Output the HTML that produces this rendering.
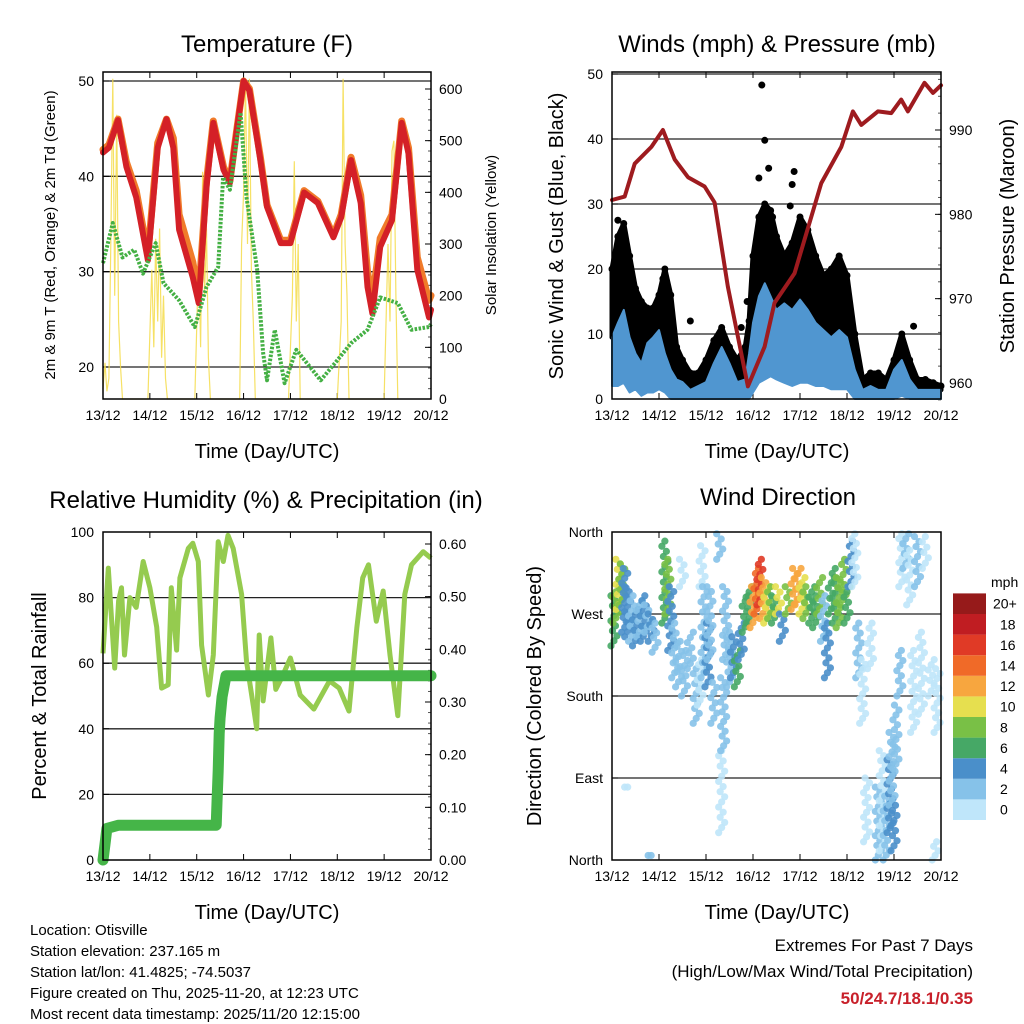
<!DOCTYPE html>
<html><head><meta charset="utf-8">
<style>
html,body{margin:0;padding:0;background:#fff;}
svg{display:block;font-family:"Liberation Sans",Arial,sans-serif;}
</style></head>
<body>
<svg id="root" width="1024" height="1024" viewBox="0 0 1024 1024" xmlns="http://www.w3.org/2000/svg">
<rect width="1024" height="1024" fill="#fff"/>
<g id="p1"></g>
<g id="p2"></g>
<g id="p3"></g>
<g id="p4"></g>

<text x="267" y="52" font-size="24" text-anchor="middle">Temperature (F)</text>
<text x="777" y="52" font-size="24" text-anchor="middle">Winds (mph) &amp; Pressure (mb)</text>
<text x="266" y="508" font-size="24" text-anchor="middle">Relative Humidity (%) &amp; Precipitation (in)</text>
<text x="778" y="505" font-size="24" text-anchor="middle">Wind Direction</text>

<text x="267" y="458" font-size="20" text-anchor="middle">Time (Day/UTC)</text>
<text x="777" y="458" font-size="20" text-anchor="middle">Time (Day/UTC)</text>
<text x="267" y="919" font-size="20" text-anchor="middle">Time (Day/UTC)</text>
<text x="777" y="919" font-size="20" text-anchor="middle">Time (Day/UTC)</text>

<text transform="translate(55,235) rotate(-90)" font-size="15" text-anchor="middle">2m &amp; 9m T (Red, Orange) &amp; 2m Td (Green)</text>
<text transform="translate(496,235) rotate(-90)" font-size="15" text-anchor="middle">Solar Insolation (Yellow)</text>
<text transform="translate(563,236) rotate(-90)" font-size="20" text-anchor="middle">Sonic Wind &amp; Gust (Blue, Black)</text>
<text transform="translate(1014,236) rotate(-90)" font-size="20" text-anchor="middle">Station Pressure (Maroon)</text>
<text transform="translate(46,696) rotate(-90)" font-size="20" text-anchor="middle">Percent &amp; Total Rainfall</text>
<text transform="translate(541,696) rotate(-90)" font-size="20" text-anchor="middle">Direction (Colored By Speed)</text>

<g font-size="15">
<text x="30" y="935">Location: Otisville</text>
<text x="30" y="956">Station elevation: 237.165 m</text>
<text x="30" y="977">Station lat/lon: 41.4825; -74.5037</text>
<text x="30" y="998">Figure created on Thu, 2025-11-20, at 12:23 UTC</text>
<text x="30" y="1019">Most recent data timestamp: 2025/11/20 12:15:00</text>
</g>
<g font-size="17" text-anchor="end">
<text x="973" y="951">Extremes For Past 7 Days</text>
<text x="973" y="977">(High/Low/Max Wind/Total Precipitation)</text>
<text x="973" y="1004" fill="#c8202a" font-weight="bold">50/24.7/18.1/0.35</text>
</g>
<g id="cbar"></g>
</svg>
<script>
// ---------- DATA ----------
const dayLabels = ['13/12','14/12','15/12','16/12','17/12','18/12','19/12','20/12'];
const tempHours = [0,3,7.7,12,17,23,28,32.5,36,39,46,49,53,56.5,61.7,65,68.6,72,75,80.6,84,91,96,103,110,118,122,127,132,135.5,138,142,148,153,156.5,161,167,168];
const tempRed = [42.5,43,45.9,41,37.8,31.2,43,46,43,34.4,29.4,26.7,38.9,45.6,40.7,39.3,44.9,50,49,41.7,36.8,33,33,38.3,37.2,33.6,35.7,41.7,37.2,28.4,25.6,32.6,35.4,45.6,42.4,30.2,25.2,26];
const tempOrange = [42.8,43.3,46,41.5,38.5,31.8,43.5,46,44,36,31,27.5,39.5,45.8,41,39.5,45,50,49.2,42,37,33.3,33.3,38.5,37.4,33.8,36,42,38,30,27,33.5,36,45.8,43,31.5,27,27.5];
const dewHours = [0,5,10,16,20.5,27,31,39,47,53,59,61.5,65,70.5,73.5,79,82,84,88,93,99,106,111.5,120,127,135.5,142,151,158,167,168];
const dewPoint = [30.9,35.1,31.5,32.3,29.8,33,28.8,27,24.2,28.4,30.5,39.9,38.6,46.7,37.8,30.2,21.5,18.6,23.9,18.3,21.8,20,18.6,20.7,22.5,23.9,27.3,26.7,23.9,24.2,24.5];
const solarHours = [0,1,2,3,4,5,6,7,8,9,10, 23,25,26,27,28,29,30,31,32,33, 47,49,50,51,52,53,54,55, 70,71,72,73,74,75,76,77,78, 95,97,98,99,100,101, 120,122,123,124,125,126, 144,146,147,148,149,150,151];
const solarVals = [20,70,15,40,300,620,200,550,150,60,0, 0,250,100,310,150,330,80,200,40,0, 0,280,100,440,200,330,80,0, 0,300,400,620,300,620,250,150,0, 0,200,460,150,300,0, 0,150,620,300,200,0, 0,300,150,480,500,200,0];

const windHours = [0,3,6,9,12,15,18,21,24,27,30,33,36,40,44,48,52,56,60,64,68,70,72,75,78,81,84,88,92,96,100,104,108,112,116,120,124,128,132,136,140,144,148,152,156,160,164,168];
const windHigh = [9.5,11.7,13.7,9.5,7,5.5,8.6,9.5,10.6,7,4.5,3,2.6,1.4,2,2.6,5.5,8,5.5,2.6,3,7,11.7,15.8,17.8,15.8,13.7,14.7,13.7,15.3,13.7,11.7,10.6,9.5,10.6,9.5,4.5,1.4,2,1.4,1.4,4.5,6,3,1.4,1.4,1.4,1.4];
const windLow = [2,2,2.5,1,1.5,0.5,1,1,1.5,1,0,0,0,0,0,0,0,0,0,0,0,0,1,2.5,3,3.5,3,2.5,2,2.5,2.5,2,2,1.5,1.5,1.5,0,0,0,0,0,0,0.5,0,0,0,0,0];
const gustHigh = [20,25,27,22,17,15,14,14,16,20,16,8,6,4,4,6,9,11,8,6,8,12,22,28,30,29,25,22,24,28,26,22,19,20,22,19,10,3,4,4,3,6,10,6,3,3,2.5,2];
const gustOutlierHours = [76.5,78,75,80,91,82,93,92,69,66,154,40,26,5,3];
const gustOutlierVals = [48.3,39.8,34,35.5,29.7,28,35,33,15,11,11.2,12,18.5,24.5,27.5];
const pressHours = [0,6.5,11.6,20.1,26,32,38.8,47.3,52.4,59.2,69.4,77.9,83,93.2,106.9,117.1,123,127.3,135.8,142.6,147.7,151.1,159.6,163.9,168];
const pressVals = [981.7,982.1,986,988,990,986.5,984.4,983.3,981.4,971.4,959.6,964.3,969.5,973,983.7,988,992.2,990.6,992.2,992,993.6,992.2,995.6,994.4,995.3];

const rhHours = [0,2.7,6,8,9.5,11,13.8,17,20.6,24,27.5,30,33.4,35,37.7,39.4,43.7,46,48.8,50.5,54,56.5,59,61.6,64,66.7,71,73.5,77,78.7,80,82,86,88.5,91.5,96,101,108,116,121,126,130,133,136,140,143.5,147,151,154.6,158,164,168];
const rhVals = [63,89,58.5,79,83,62.5,80,77,91,83,71,52.4,53.4,83,64,86,95,96.6,91,65.5,50.3,62.5,97,91,99,95,81,60.6,47,40,68.6,48.5,67.7,52,55.5,61.6,50.3,46,54.6,52.4,45.4,70.7,86,90,72.8,82,62.5,44,81,90,94,92];
const precipHours = [0,1,2,8,58,58.5,59,59.5,60,61,63,168];
const precipVals = [0,0.03,0.06,0.066,0.066,0.12,0.17,0.24,0.27,0.31,0.35,0.35];

// direction clusters: hour, low dir, high dir, speed
const dirHours = [1,2,3.5,5,6.5,8,10,12,14,16,18,20,22,27,28.5,30,32,34,36,37,40,43,45,46,47,49,50,52,55,56,57,58,60,62,64,66,68,70,72,74,75.5,77,79,81,83,85,87,90,93,95,97,99,102,104,106,108,110,112,114,116,118,120,122,124,126,128,130,132,136,138,140,142,143,144,145,147,148,150,152,154,156,158,160,163,165,166,8,20];
const dirLow = [235,260,275,280,250,245,240,235,245,240,250,240,228,260,270,230,200,190,300,180,210,150,170,300,200,190,220,150,330,30,120,220,190,200,190,220,250,260,255,270,280,265,260,265,260,270,240,270,275,280,270,265,260,255,270,240,200,270,260,255,280,260,300,300,200,150,20,210,0,10,0,30,60,10,100,180,300,320,280,140,300,160,320,180,0,140,80,5];
const dirHigh = [290,300,330,325,320,300,290,275,285,290,280,270,260,350,330,300,260,240,330,230,250,210,220,345,300,260,300,195,358,120,200,300,250,245,230,260,290,300,300,320,330,310,300,300,290,300,270,300,320,320,310,300,300,290,310,290,260,310,320,310,330,300,350,358,260,220,90,260,80,120,70,110,140,60,170,230,358,358,340,230,355,250,355,220,20,210,80,5];
const dirSpeed = [6,9,11,8,5,4,3,4,3,5,3,4,2,6,8,4,2,3,1,2,2,2,1,1,3,4,3,2,3,1,2,3,2,4,6,5,7,6,12,14,16,13,11,9,7,10,5,8,13,12,10,9,7,6,8,3,4,6,7,8,9,6,4,1,2,1,1,1,2,1,3,4,3,4,2,2,1,2,1,1,2,1,1,1,1,1,1,3];
const speedBins = ['0','2','4','6','8','10','12','14','16','18','20+'];
const speedColors = ['#bfe6fa','#86c2e9','#4a8fca','#46a866','#79c046','#e6df4f','#f7a63f','#f06a28','#e03a26','#c01d22','#961a1a'];

// ---------- HELPERS ----------
const NS='http://www.w3.org/2000/svg';
function mk(tag,parent){const e=document.createElementNS(NS,tag);parent.appendChild(e);return e;}
function attrs(e,o){for(const k in o)e.setAttribute(k,o[k]);return e;}
function lin(d0,d1,r0,r1){return v=>r0+(v-d0)*(r1-r0)/(d1-d0);}

function panel(g,x0,x1,y0,y1,yTicks,yFn,yLabelFn,rTicks,rFn,rLabelFn,rMinor,gridTicks){
  const xs=lin(0,168,x0,x1);
  gridTicks.forEach(t=>{
    const l=mk('line',g);
    
    
    attrs(l,{x1:x0,x2:x1,y1:yFn(t),y2:yFn(t),stroke:'#222','stroke-width':1.3});
  });
  yTicks.forEach(t=>{
    const y=yFn(t);
    const tk=mk('line',g);
    
    
    attrs(tk,{x1:x0,x2:x0+6,y1:y,y2:y,stroke:'#000','stroke-width':1});
    const tx=mk('text',g);
    
    
    attrs(tx,{x:x0-9,y:y+5,'font-size':14,'text-anchor':'end'});
    tx.textContent=yLabelFn(t);
  });
  if(rTicks){
    rMinor.forEach(t=>{
      const tk=mk('line',g);
      
      
      attrs(tk,{x1:x1-3,x2:x1,y1:rFn(t),y2:rFn(t),stroke:'#555','stroke-width':1});
    });
    rTicks.forEach(t=>{
      const y=rFn(t);
      const tk=mk('line',g);
      
      
      attrs(tk,{x1:x1-6,x2:x1,y1:y,y2:y,stroke:'#000','stroke-width':1});
      const tx=mk('text',g);
      
      
      attrs(tx,{x:x1+8,y:y+5,'font-size':14,'text-anchor':'start'});
      tx.textContent=rLabelFn(t);
    });
  }
  dayLabels.forEach((d,i)=>{
    const x=xs(i*24);
    const tk=mk('line',g);
    
    
    attrs(tk,{x1:x,x2:x,y1:y1,y2:y1-6,stroke:'#000','stroke-width':1});
    const tk2=mk('line',g);
    
    
    attrs(tk2,{x1:x,x2:x,y1:y0,y2:y0+6,stroke:'#000','stroke-width':1});
    const tx=mk('text',g);
    
    
    attrs(tx,{x:x,y:y1+21,'font-size':14,'text-anchor':'middle'});
    tx.textContent=d;
  });
  return xs;
}
function frame(g,x0,x1,y0,y1){
  const r=mk('rect',g);
  
  
  attrs(r,{x:x0,y:y0,width:x1-x0,height:y1-y0,fill:'none',stroke:'#000','stroke-width':1.5});
}
function pathD(hs,vs,xs,ys){return hs.map((h,i)=>(i?'L':'M')+xs(h).toFixed(1)+','+ys(vs[i]).toFixed(1)).join('');}

// ---------- PANEL 1: TEMPERATURE ----------
(function(){
  const g=document.getElementById('p1');
  const x0=103,x1=431,y0=72,y1=399;
  const ys=lin(20,50,367,81);
  const rs=lin(0,600,399,89);
  const solarMinor=[];for(let v=20;v<=600;v+=20)solarMinor.push(v);
  const xs=panel(g,x0,x1,y0,y1,[20,30,40,50],ys,t=>t,[0,100,200,300,400,500,600],rs,t=>t,solarMinor,[20,30,40,50]);
  const s=mk('path',g);
  
  
  attrs(s,{d:pathD(solarHours,solarVals,xs,rs),fill:'none',stroke:'#f5dc4a','stroke-width':1.2,opacity:0.85});
  const o=mk('path',g);
  
  
  attrs(o,{d:pathD(tempHours,tempOrange,xs,ys),fill:'none',stroke:'#f07b2a','stroke-width':7,'stroke-linejoin':'round','stroke-linecap':'round'});
  const r=mk('path',g);
  
  
  attrs(r,{d:pathD(tempHours,tempRed,xs,ys),fill:'none',stroke:'#d42027','stroke-width':6,'stroke-linejoin':'round','stroke-linecap':'round'});
  const d=mk('path',g);
  
  
  attrs(d,{d:pathD(dewHours,dewPoint,xs,ys),fill:'none',stroke:'#44b044','stroke-width':4,'stroke-dasharray':'2.5 1.5','stroke-linejoin':'round'});
  frame(g,x0,x1,y0,y1);
})();

// ---------- PANEL 2: WINDS ----------
(function(){
  const g=document.getElementById('p2');
  const x0=612,x1=941,y0=72,y1=399;
  const ys=lin(0,50,399,74);
  const ps=lin(960,990,383,130);
  const pm=[];for(let v=958;v<=996;v+=2)pm.push(v);
  const xs=panel(g,x0,x1,y0,y1,[0,10,20,30,40,50],ys,t=>t,[960,970,980,990],ps,t=>t,pm,[10,20,30,40,50]);
  const backH=windHours.slice().reverse();
  const backW=windHigh.slice().reverse();
  const gp=mk('path',g);
  
  
  attrs(gp,{d:pathD(windHours,gustHigh,xs,ys)+backH.map((h,i)=>'L'+xs(h).toFixed(1)+','+ys(backW[i]).toFixed(1)).join('')+'Z',fill:'#000',stroke:'#000','stroke-width':5,'stroke-linejoin':'round'});
  windHours.forEach((h,i)=>{
    const c=mk('circle',g);
    
    
    attrs(c,{cx:xs(h),cy:ys(gustHigh[i]),r:3.5,fill:'#000'});
  });
  gustOutlierHours.forEach((h,i)=>{
    const c=mk('circle',g);
    
    
    attrs(c,{cx:xs(h),cy:ys(gustOutlierVals[i]),r:3.5,fill:'#000'});
  });
  const bw=mk('path',g);
  
  
  const backV=windLow.slice().reverse();
  attrs(bw,{d:pathD(windHours,windHigh,xs,ys)+backH.map((h,i)=>'L'+xs(h).toFixed(1)+','+ys(backV[i]).toFixed(1)).join('')+'Z',fill:'#5096d0',stroke:'#5096d0','stroke-width':2,'stroke-linejoin':'round'});
  const pl=mk('path',g);
  
  
  attrs(pl,{d:pathD(pressHours,pressVals,xs,ps),fill:'none',stroke:'#9e1b1f','stroke-width':4,'stroke-linejoin':'round','stroke-linecap':'round'});
  frame(g,x0,x1,y0,y1);
})();

// ---------- PANEL 3: HUMIDITY ----------
(function(){
  const g=document.getElementById('p3');
  const x0=103,x1=431,y0=532,y1=860;
  const ys=lin(0,100,860,532);
  const rs=lin(0,0.6,860,544);
  const rm=[];for(let v=0.02;v<=0.62;v+=0.02)rm.push(+v.toFixed(2));
  const xs=panel(g,x0,x1,y0,y1,[0,20,40,60,80,100],ys,t=>t,[0,0.1,0.2,0.3,0.4,0.5,0.6],rs,t=>t.toFixed(2),rm,[20,40,60,80]);
  const rh=mk('path',g);
  
  
  attrs(rh,{d:pathD(rhHours,rhVals,xs,ys),fill:'none',stroke:'#95cb4f','stroke-width':5,'stroke-linejoin':'round'});
  const pr=mk('path',g);
  
  
  attrs(pr,{d:pathD(precipHours,precipVals,xs,rs),fill:'none',stroke:'#45b548','stroke-width':11,'stroke-linejoin':'round','stroke-linecap':'round'});
  frame(g,x0,x1,y0,y1);
})();

// ---------- PANEL 4: WIND DIRECTION ----------
(function(){
  const g=document.getElementById('p4');
  const x0=612,x1=941,y0=532,y1=860;
  const ys=lin(0,360,860,532);
  const names=['North','East','South','West','North'];
  const xs=panel(g,x0,x1,y0,y1,[0,90,180,270,360],ys,t=>names[t/90],null,null,null,null,[90,180,270]);
  dirHours.forEach((h,i)=>{
    const bin=Math.min(10,Math.floor(dirSpeed[i]/2));
    const yA=ys(dirLow[i]),yB=ys(dirHigh[i]);
    const n=Math.max(1,Math.round(Math.abs(yA-yB)/5));
    for(let k=0;k<=n;k++){
      const c=mk('circle',g);
      
      
      attrs(c,{cx:xs(h)+((k*7)%5-2)*1.5,cy:yA+(yB-yA)*k/n,r:3.6,fill:speedColors[bin],opacity:0.9});
    }
  });
  frame(g,x0,x1,y0,y1);
  const cb=document.getElementById('cbar');
  const t=mk('text',cb);
  
  
  attrs(t,{x:991,y:587,'font-size':14});
  t.textContent='mph';
  const h=20.6;
  speedBins.forEach((lab,i)=>{
    const y=820-(i+1)*h;
    const r=mk('rect',cb);
    
    
    attrs(r,{x:953,y:y,width:33,height:h,fill:speedColors[i]});
    const tx=mk('text',cb);
    
    
    attrs(tx,{x:i===10?993:1000,y:y+h/2+5,'font-size':14});
    tx.textContent=lab;
  });
})();
</script>
</body></html>
